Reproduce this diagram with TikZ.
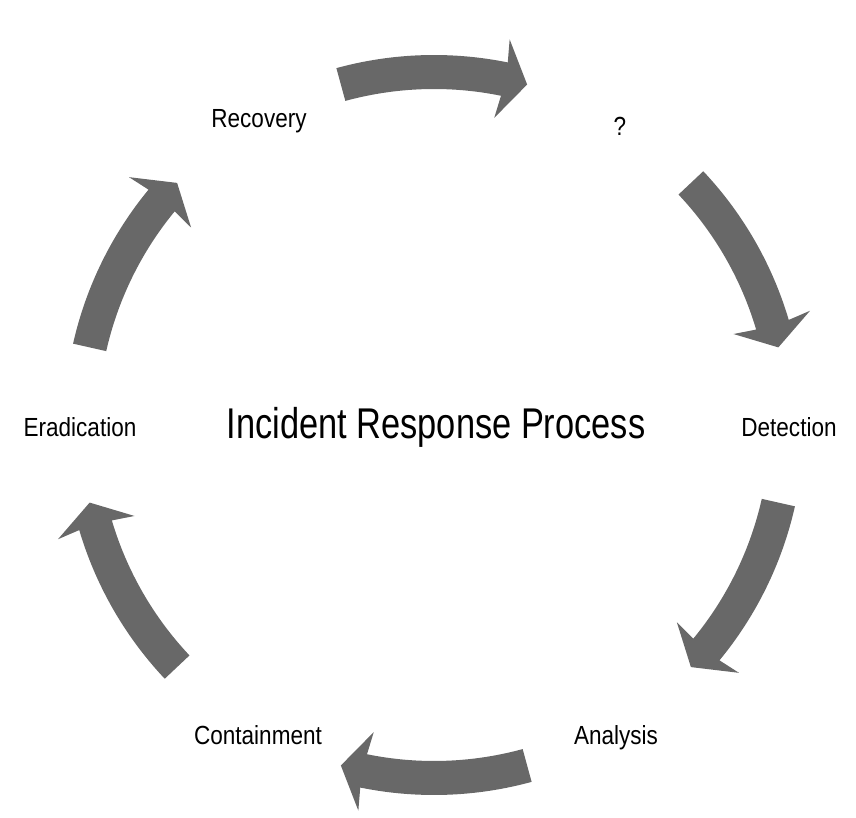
\documentclass[tikz,border=0pt]{standalone}
\usepackage{fontspec}
\usepackage{xcolor}
\usepackage{tikz}
\newfontfamily\condfont{Liberation Sans}[FakeStretch=0.86]
\newfontfamily\titlefont{Liberation Sans}[FakeStretch=0.8]
\definecolor{arrowgray}{RGB}{104,104,104}

\begin{document}
\begin{tikzpicture}[x=1pt, y=1pt,
  lbl/.style={font=\condfont\fontsize{26.2}{30}\selectfont, anchor=base, inner sep=0pt},
  ttl/.style={font=\titlefont\fontsize{43}{50}\selectfont, anchor=base, inner sep=0pt},
  blk/.style={fill=arrowgray}]
\useasboundingbox (-434,-393) rectangle (422,425);
% block arrows round the cycle, clockwise
\foreach \c in {90,28,-28,-90,-152,152} {
  \fill[blk] ({\c+15.3}:370) arc[start angle={\c+15.3}, end angle={\c-11.5}, radius=370pt]
    -- ({\c-11.1}:393) -- ({\c-15.3}:353) -- ({\c-11.1}:313) -- ({\c-11.5}:336)
    arc[start angle={\c-11.5}, end angle={\c+15.3}, radius=336pt] -- cycle;
}
\node[ttl] (title) at (2,-14) {Incident Response Process};
\node[lbl] (qm) at (186,289) {?};
\node[lbl] (det) at (355,-12) {Detection};
\node[lbl] (ana) at (182,-319) {Analysis};
\node[lbl] (con) at (-176,-319) {Containment};
\node[lbl] (era) at (-354,-12) {Eradication};
\node[lbl] (rec) at (-175,297) {Recovery};
\end{tikzpicture}
\end{document}
